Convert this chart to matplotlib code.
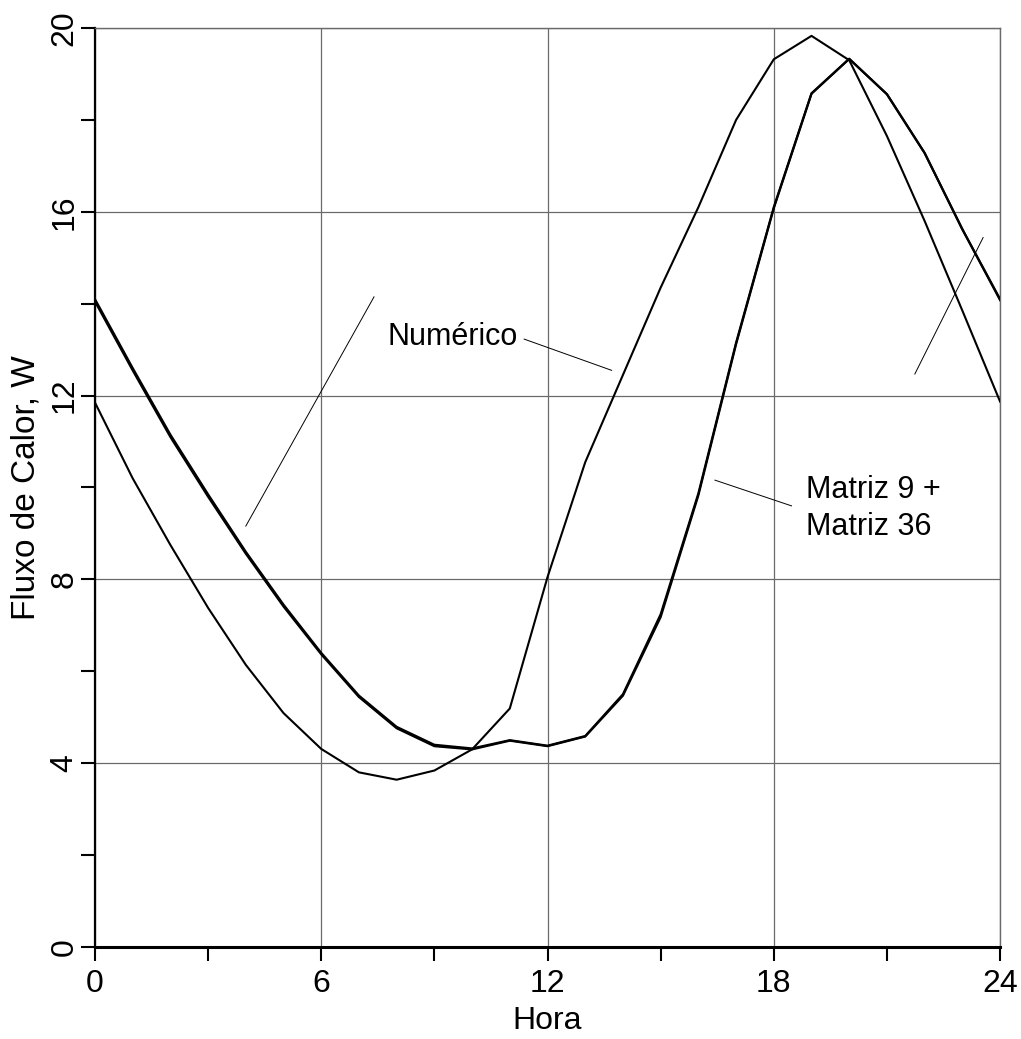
import numpy as np
import matplotlib.pyplot as plt

# hourly heat flux (W)
hora = np.arange(0, 25)
numerico = [11.85, 10.2, 8.75, 7.38, 6.14, 5.09, 4.31, 3.80, 3.64, 3.84, 4.30, 5.19,
            8.05, 10.55, 12.45, 14.35, 16.1, 18.0, 19.32, 19.83, 19.30, 17.65, 15.8, 13.85, 11.87]
matriz9 = [14.1, 12.6, 11.15, 9.85, 8.6, 7.45, 6.4, 5.47, 4.79, 4.40, 4.32, 4.50,
           4.38, 4.59, 5.50, 7.24, 9.87, 13.15, 16.1, 18.58, 19.33, 18.56, 17.28, 15.62, 14.1]
matriz36 = [14.05, 12.55, 11.1, 9.8, 8.56, 7.41, 6.37, 5.44, 4.76, 4.37, 4.30, 4.49,
            4.37, 4.58, 5.47, 7.18, 9.83, 13.12, 16.08, 18.57, 19.33, 18.56, 17.28, 15.62, 14.08]

xticks = [0, 6, 12, 18, 24]
yticks = [0, 4, 8, 12, 16, 20]

font = ['Liberation Sans', 'DejaVu Sans']

fig = plt.figure(figsize=(10.21, 10.39), dpi=100)
ax = fig.add_axes([0.093, 0.0886, 0.8865, 0.8844])

ax.plot(hora, numerico, color='black', lw=1.5, zorder=3)
ax.plot(hora, matriz9, color='black', lw=1.6, zorder=3)
ax.plot(hora, matriz36, color='black', lw=1.6, zorder=3)

# leader / pointer lines
ax.plot([4.0, 7.4], [9.16, 14.15], color='black', lw=0.7)
ax.plot([21.74, 23.55], [12.47, 15.44], color='black', lw=0.7)
ax.plot([11.38, 13.7], [13.23, 12.55], color='black', lw=0.7)
ax.plot([16.44, 18.47], [10.16, 9.6], color='black', lw=0.7)

ax.text(7.77, 13.28, 'Numérico', family=font, fontsize=22, va='center', ha='left')
ax.text(18.85, 9.55, 'Matriz 9 +\nMatriz 36', family=font, fontsize=22,
        va='center', ha='left', linespacing=1.3)

ax.set_xlim(0, 24)
ax.set_ylim(0, 20)
ax.set_xticks(xticks)
ax.set_xticks([3, 9, 15, 21], minor=True)
ax.set_yticks(yticks)
ax.set_yticks([2, 6, 10, 14, 18], minor=True)
ax.set_xticklabels([str(v) for v in xticks], family=font, fontsize=23)
ax.set_yticklabels([str(v) for v in yticks], family=font, fontsize=23,
                   rotation=90, va='center')

ax.tick_params(which='both', direction='out', length=10, width=1.5, color='black')
ax.tick_params(axis='x', pad=6)
ax.tick_params(axis='y', pad=1)

ax.grid(which='major', color='#6a6a6a', lw=0.9)
ax.set_axisbelow(True)
for s in ['top', 'right']:
    ax.spines[s].set_color('#6a6a6a')
    ax.spines[s].set_linewidth(1.0)
ax.spines['left'].set_linewidth(1.6)
ax.spines['bottom'].set_linewidth(2.2)

ax.set_xlabel('Hora', family=font, fontsize=23, labelpad=5)
ax.set_ylabel('Fluxo de Calor, W', family=font, fontsize=24, labelpad=6)

fig.savefig('out.png', dpi=100)
